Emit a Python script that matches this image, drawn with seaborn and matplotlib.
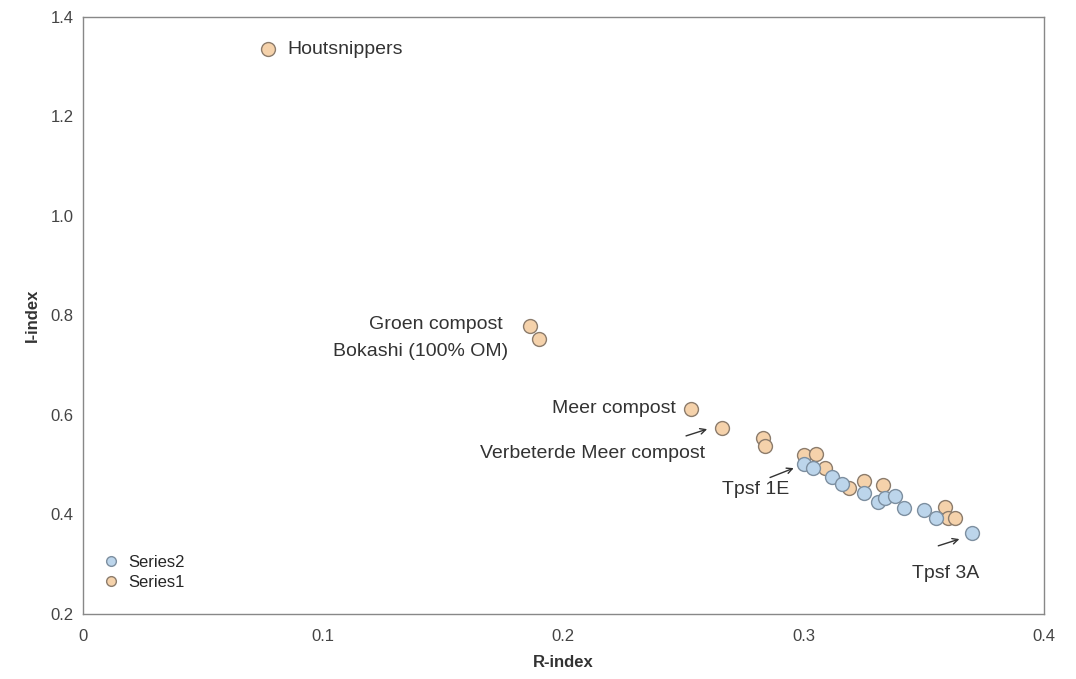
import matplotlib
matplotlib.use('Agg')
import matplotlib.pyplot as plt
import seaborn as sns
import pandas as pd
from matplotlib.lines import Line2D

# Data
s1_r = [0.077, 0.186, 0.190, 0.253, 0.266, 0.283, 0.284, 0.300, 0.305, 0.309,
        0.319, 0.325, 0.333, 0.359, 0.360, 0.363]
s1_i = [1.335, 0.778, 0.752, 0.612, 0.574, 0.553, 0.537, 0.520, 0.521, 0.493,
        0.453, 0.468, 0.458, 0.415, 0.393, 0.392]
s2_r = [0.300, 0.304, 0.312, 0.316, 0.325, 0.331, 0.334, 0.338, 0.342, 0.350,
        0.355, 0.370]
s2_i = [0.502, 0.494, 0.476, 0.462, 0.443, 0.425, 0.432, 0.436, 0.413, 0.408,
        0.392, 0.362]

df1 = pd.DataFrame({'R-index': s1_r, 'I-index': s1_i, 'serie': 'Series1'})
df2 = pd.DataFrame({'R-index': s2_r, 'I-index': s2_i, 'serie': 'Series2'})

sns.set_style('white')
plt.rcParams['font.family'] = ['Liberation Sans', 'DejaVu Sans']

fig = plt.figure(figsize=(10.76, 6.79), dpi=100)
ax = fig.add_axes([0.077, 0.096, 0.893, 0.879])

oranje = '#f5d2ab'
blauw = '#bcd5eb'
sns.scatterplot(data=df1, x='R-index', y='I-index', color=oranje, s=100,
                edgecolor='#8c7c6c', linewidth=1.0, ax=ax, legend=False, zorder=3)
sns.scatterplot(data=df2, x='R-index', y='I-index', color=blauw, s=100,
                edgecolor='#7d8fa0', linewidth=1.0, ax=ax, legend=False, zorder=3)

ax.set_xlim(0, 0.4)
ax.set_ylim(0.2, 1.4)
ax.set_xticks([0, 0.1, 0.2, 0.3, 0.4])
ax.set_xticklabels(['0', '0.1', '0.2', '0.3', '0.4'])
ax.set_yticks([0.2, 0.4, 0.6, 0.8, 1.0, 1.2, 1.4])
ax.set_yticklabels(['0.2', '0.4', '0.6', '0.8', '1.0', '1.2', '1.4'])
ax.tick_params(labelsize=12, colors='#444444', length=3, direction='out')
ax.tick_params(axis='x', pad=8)
ax.set_xlabel('R-index', fontsize=12, fontweight='bold', color='#333333', labelpad=8)
ax.set_ylabel('I-index', fontsize=12, fontweight='bold', color='#333333', labelpad=8)
for sp in ax.spines.values():
    sp.set_color('#888888')
    sp.set_linewidth(1.0)

# Annotaties
tk = dict(fontsize=14, color='#333333')
ax.text(0.085, 1.335, 'Houtsnippers', ha='left', va='center', **tk)
ax.text(0.175, 0.782, 'Groen compost', ha='right', va='center', **tk)
ax.text(0.177, 0.728, 'Bokashi (100% OM)', ha='right', va='center', **tk)
ax.text(0.247, 0.612, 'Meer compost', ha='right', va='center', **tk)
ax.text(0.259, 0.522, 'Verbeterde Meer compost', ha='right', va='center', **tk)
ax.text(0.266, 0.449, 'Tpsf 1E', ha='left', va='center', **tk)
ax.text(0.345, 0.282, 'Tpsf 3A', ha='left', va='center', **tk)

pijl = dict(arrowstyle='->', color='#333333', lw=1.0)
ax.annotate('', xy=(0.261, 0.573), xytext=(0.250, 0.556), arrowprops=pijl)
ax.annotate('', xy=(0.297, 0.495), xytext=(0.285, 0.472), arrowprops=pijl)
ax.annotate('', xy=(0.366, 0.352), xytext=(0.355, 0.335), arrowprops=pijl)

# Legenda (Series2 boven)
handles = [Line2D([], [], marker='o', linestyle='', markersize=7,
                  markerfacecolor=blauw, markeredgecolor='#7d8fa0'),
           Line2D([], [], marker='o', linestyle='', markersize=7,
                  markerfacecolor=oranje, markeredgecolor='#8c7c6c')]
ax.legend(handles, ['Series2', 'Series1'], loc='lower left', frameon=False,
          fontsize=12, handletextpad=0.0, labelspacing=0.3,
          borderaxespad=0.3, bbox_to_anchor=(0.0, 0.02))

fig.savefig('out.png', dpi=100)
